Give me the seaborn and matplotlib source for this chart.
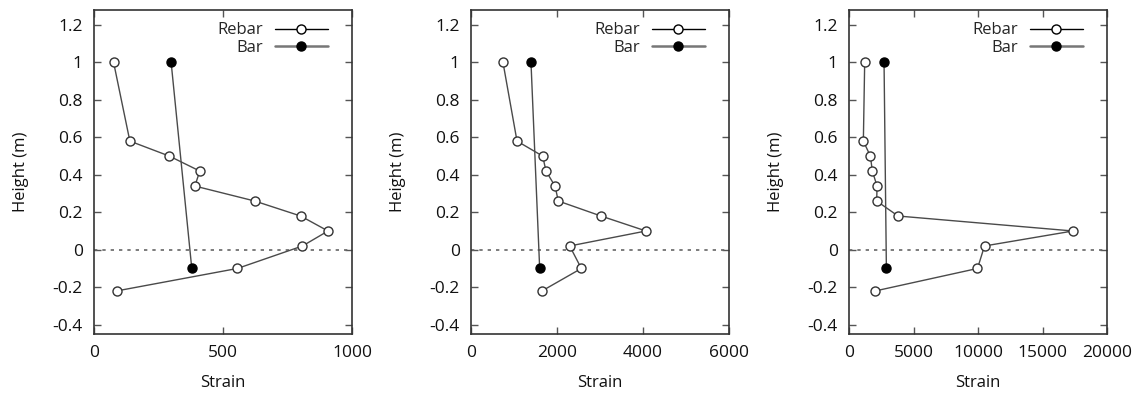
import matplotlib
matplotlib.use("Agg")
import matplotlib.pyplot as plt
from matplotlib.lines import Line2D
import seaborn as sns
import pandas as pd

sns.set_theme(style="white")
plt.rcParams["font.family"] = ["Open Sans", "DejaVu Sans"]

# Gauge heights along the pile (m)
rebar_height = [1.0, 0.58, 0.5, 0.42, 0.34, 0.26, 0.18, 0.10, 0.02, -0.10, -0.22]
bar_height = [1.0, -0.10]

# Strain readings for the three load stages
rebar_strain_1 = [76, 139, 292, 410, 391, 623, 801, 907, 808, 556, 88]
bar_strain_1 = [299, 379]
rebar_strain_2 = [744, 1070, 1667, 1744, 1953, 2031, 3023, 4070, 2295, 2566, 1651]
bar_strain_2 = [1395, 1597]
rebar_strain_3 = [1216, 1113, 1656, 1811, 2173, 2147, 3803, 17361, 10505, 9961, 2044]
bar_strain_3 = [2717, 2898]

x_limits = [1000, 6000, 20000]
x_ticks = [[0, 500, 1000], [0, 2000, 4000, 6000], [0, 5000, 10000, 15000, 20000]]
y_ticks = [-0.4, -0.2, 0, 0.2, 0.4, 0.6, 0.8, 1.0, 1.2]
y_tick_labels = ["-0.4", "-0.2", "0", "0.2", "0.4", "0.6", "0.8", "1", "1.2"]

panels = [
    (rebar_strain_1, bar_strain_1),
    (rebar_strain_2, bar_strain_2),
    (rebar_strain_3, bar_strain_3),
]

fig = plt.figure(figsize=(11.37, 3.95), dpi=100)
lefts = [94 / 1137, 471 / 1137, 849 / 1137]
width = 258 / 1137
bottom = 1 - 334 / 395
height = (334 - 10) / 395

fs = 12.5
text_col = "#111111"
line_col = "#4a4a4a"
for i, (rebar, bar) in enumerate(panels):
    ax = fig.add_axes([lefts[i], bottom, width, height])
    ax.axhline(0, color="#666666", lw=1.2, ls=(0, (2, 3)), zorder=1)
    rdf = pd.DataFrame({"Strain": rebar, "Height": rebar_height})
    bdf = pd.DataFrame({"Strain": bar, "Height": bar_height})
    sns.lineplot(data=rdf, x="Strain", y="Height", sort=False, ax=ax,
                 color=line_col, lw=1.0, marker="o", markersize=6.5,
                 markerfacecolor="white", markeredgecolor="#333333",
                 markeredgewidth=1.0, zorder=3)
    sns.lineplot(data=bdf, x="Strain", y="Height", sort=False, ax=ax,
                 color=line_col, lw=1.0, marker="o", markersize=6.5,
                 markerfacecolor="black", markeredgecolor="black",
                 markeredgewidth=1.0, zorder=3)
    ax.set_xlim(0, x_limits[i])
    ax.set_ylim(-0.45, 1.28)
    ax.set_xticks(x_ticks[i])
    ax.set_xticklabels([str(t) for t in x_ticks[i]])
    ax.set_yticks(y_ticks)
    ax.set_yticklabels(y_tick_labels)
    ax.tick_params(direction="in", length=5, width=1.0, color="#555555",
                   labelsize=fs, labelcolor=text_col, pad=8,
                   top=True, right=True, bottom=True, left=True)
    for s in ax.spines.values():
        s.set_color("#333333")
        s.set_linewidth(1.2)
        s.set_visible(True)
    ax.set_xlabel("Strain", fontsize=fs - 0.5, color=text_col, labelpad=10)
    ax.set_ylabel("Height (m)", fontsize=fs - 0.5, color=text_col, labelpad=17)

    handles = [
        Line2D([], [], color="black", lw=1.0, marker="o", markersize=6.5,
               markerfacecolor="white", markeredgecolor="black"),
        Line2D([], [], color="#777777", lw=1.8, marker="o", markersize=6.5,
               markerfacecolor="black", markeredgecolor="black"),
    ]
    ax.legend(handles, ["Rebar", "Bar"], loc="upper right", frameon=False,
              markerfirst=False, fontsize=fs - 0.5, handlelength=3.2,
              handletextpad=0.7, labelspacing=0.1, borderaxespad=0.35,
              bbox_to_anchor=(0.955, 1.0))

fig.savefig("out.png", dpi=100)
